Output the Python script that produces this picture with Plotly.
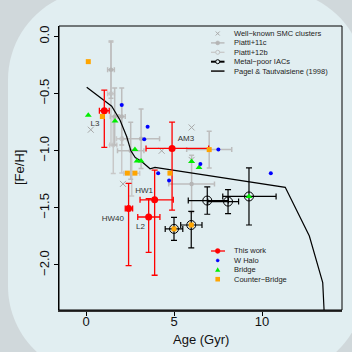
import plotly.graph_objects as go

W = H = 352
L, R, T, B = 59, 342, 26, 310  # plot area in pixels


def px(x):
    return (x - L) / (R - L)


def py(y):
    return (B - y) / (B - T)


FONT = "Liberation Sans, Arial, Helvetica, sans-serif"

# ---------------- data ----------------
# This work (red)
tw_names = ["L3", "AM3", "HW1", "HW40", "L2"]
tw_age = [1.04, 4.89, 3.90, 2.42, 3.56]
tw_age_lo = [0.28, 1.48, 0.83, 0.19, 0.62]
tw_age_hi = [0.28, 2.08, 1.06, 0.23, 0.64]
tw_feh = [-0.65, -0.98, -1.43, -1.505, -1.58]
tw_feh_hi = [0.18, 0.23, 0.26, 0.22, 0.16]
tw_feh_lo = [0.32, 0.54, 0.66, 0.50, 0.31]
lab_age = [0.51, 5.68, 3.30, 1.52, 3.10]
lab_feh = [-0.77, -0.90, -1.35, -1.60, -1.67]

# Metal-poor IACs (black open circles)
iac_age = [5.00, 5.98, 6.89, 8.07, 9.26]
iac_age_lo = [0.50, 0.60, 1.08, 1.15, 1.49]
iac_age_hi = [0.50, 0.61, 1.20, 0.60, 1.54]
iac_feh = [-1.684, -1.65, -1.436, -1.445, -1.40]
iac_feh_hi = [0.10, 0.12, 0.12, 0.105, 0.25]
iac_feh_lo = [0.10, 0.20, 0.12, 0.105, 0.25]

# Piatti+11c (filled grey)
p11_age = [1.42, 1.63, 2.03, 3.13, 2.54, 6.00, 7.00]
p11_feh = [-0.29, -0.70, -0.70, -0.895, -1.00, -1.29, -0.99]
p11_ex = [0.19, 0.25, 0.20, 1.05, 0.75, 1.30, 1.28]
p11_ey = [0.25, 0.25, 0.25, 0.26, 0.25, 0.25, 0.16]

# Piatti+12b (open grey)
p12_age = [1.42, 2.03, 1.55, 2.60]
p12_feh = [-0.50, -0.895, -0.95, -1.196]
p12_ex = [0.19, 0.30, 0.20, 0.45]
p12_ey = [0.45, 0.30, 0.25, 0.20]

# Well-known SMC clusters (grey x)
smc_age = [0.27, 4.30, 6.00, 6.00, 2.10]
smc_feh = [-0.816, -1.00, -0.796, -1.08, -1.29]

# W Halo (blue)
wh_age = [2.03, 3.50, 3.31, 4.10, 4.72, 7.52, 6.50, 10.50]
wh_feh = [-0.60, -0.79, -0.90, -1.196, -1.26, -0.99, -1.117, -1.196]

# Bridge (green)
br_age = [0.13, 1.65, 2.78, 2.90, 3.13, 6.00, 6.42, 9.26]
br_feh = [-0.69, -0.74, -0.99, -1.09, -1.09, -1.094, -1.146, -1.40]

# Counter-Bridge (orange)
cb_age = [0.13, 0.93, 2.35, 2.78, 4.77, 7.00, 5.00, 5.98]
cb_feh = [-0.22, -0.70, -1.196, -1.196, -1.196, -0.99, -1.684, -1.65]

# Pagel & Tautvaisiene (1998)
pt_age = [0.04, 0.61, 1.08, 1.46, 1.93, 2.31, 2.55, 2.80, 3.16, 3.64, 3.92,
          11.32, 12.69, 12.88, 13.45, 13.56]
pt_feh = [-0.445, -0.51, -0.56, -0.61, -0.73, -0.875, -1.00, -1.06, -1.094,
          -1.158, -1.145, -1.32, -1.746, -1.85, -2.155, -2.50]

x_ticks = [0, 5, 10]
y_ticks = [0.0, -0.5, -1.0, -1.5, -2.0]
y_ticktext = ["0.0", "\u22120.5", "\u22121.0", "\u22121.5", "\u22122.0"]

GRAY = "#bdbdbd"

fig = go.Figure()

fig.add_trace(go.Scatter(
    x=p12_age, y=p12_feh, mode="markers",
    marker=dict(symbol="circle-open", size=4, color="#c4c4c4", line=dict(width=1)),
    error_x=dict(type="data", array=p12_ex, color="#c8c8c8", thickness=1.5, width=2.5),
    error_y=dict(type="data", array=p12_ey, color="#c8c8c8", thickness=1.5, width=2.5),
    showlegend=False))
fig.add_trace(go.Scatter(
    x=p11_age, y=p11_feh, mode="markers",
    marker=dict(symbol="circle", size=4.5, color="#b5b5b5"),
    error_x=dict(type="data", array=p11_ex, color=GRAY, thickness=1.5, width=2.5),
    error_y=dict(type="data", array=p11_ey, color=GRAY, thickness=1.5, width=2.5),
    showlegend=False))
fig.add_trace(go.Scatter(
    x=smc_age, y=smc_feh, mode="markers",
    marker=dict(symbol="x-thin", size=6, line=dict(width=1, color="#a8a8a8")),
    showlegend=False))
fig.add_trace(go.Scatter(
    x=pt_age, y=pt_feh, mode="lines",
    line=dict(color="black", width=1.2), showlegend=False))
fig.add_trace(go.Scatter(
    x=tw_age, y=tw_feh, mode="markers",
    marker=dict(symbol="circle", size=7, color="#ff0000"),
    error_x=dict(type="data", symmetric=False, array=tw_age_hi, arrayminus=tw_age_lo,
                 color="#ff0000", thickness=1.3, width=3),
    error_y=dict(type="data", symmetric=False, array=tw_feh_hi, arrayminus=tw_feh_lo,
                 color="#ff0000", thickness=1.3, width=3),
    showlegend=False))
fig.add_trace(go.Scatter(
    x=iac_age, y=iac_feh, mode="markers",
    marker=dict(symbol="circle-open", size=9, color="black", line=dict(width=1)),
    error_x=dict(type="data", symmetric=False, array=iac_age_hi, arrayminus=iac_age_lo,
                 color="black", thickness=1.2, width=3),
    error_y=dict(type="data", symmetric=False, array=iac_feh_hi, arrayminus=iac_feh_lo,
                 color="black", thickness=1.2, width=3),
    showlegend=False))
fig.add_trace(go.Scatter(
    x=cb_age, y=cb_feh, mode="markers",
    marker=dict(symbol="square", size=5, color="#ffa500"), showlegend=False))
fig.add_trace(go.Scatter(
    x=br_age, y=br_feh, mode="markers",
    marker=dict(symbol="triangle-up", size=6, color="#00ee00"), showlegend=False))
fig.add_trace(go.Scatter(
    x=wh_age, y=wh_feh, mode="markers",
    marker=dict(symbol="circle", size=4, color="#0000ff"), showlegend=False))
fig.add_trace(go.Scatter(
    x=lab_age, y=lab_feh, mode="text", text=tw_names,
    textfont=dict(family=FONT, size=8, color="#333333"), showlegend=False))

shapes = []
annotations = []

# rounded background panel (pixel geometry -> paper)
x0p, x1p, y0p, y1p, r = 8, 365, -10, 376, 90
k = 0.5523 * r


def P(x, y):
    return f"{px(x):.5f},{py(y):.5f}"


path = (
    f"M {P(x0p + r, y0p)} L {P(x1p - r, y0p)} "
    f"C {P(x1p - r + k, y0p)} {P(x1p, y0p + r - k)} {P(x1p, y0p + r)} "
    f"L {P(x1p, y1p - r)} "
    f"C {P(x1p, y1p - r + k)} {P(x1p - r + k, y1p)} {P(x1p - r, y1p)} "
    f"L {P(x0p + r, y1p)} "
    f"C {P(x0p + r - k, y1p)} {P(x0p, y1p - r + k)} {P(x0p, y1p - r)} "
    f"L {P(x0p, y0p + r)} "
    f"C {P(x0p, y0p + r - k)} {P(x0p + r - k, y0p)} {P(x0p + r, y0p)} Z"
)
shapes.append(dict(type="path", xref="paper", yref="paper", path=path,
                   fillcolor="#e1eef1", line=dict(width=0), layer="below"))

# frame
shapes.append(dict(type="rect", xref="paper", yref="paper", x0=0, x1=1, y0=0, y1=1,
                   line=dict(color="black", width=1), layer="above"))

# legends
sx, tx = 217.7, 231.5
leg1 = ["Well\u2212known SMC clusters", "Piatti+11c", "Piatti+12b",
        "Metal\u2212poor IACs", "Pagel & Tautvaisiene (1998)"]
leg2 = ["This work", "W Halo", "Bridge", "Counter\u2212Bridge"]
y1s = [33.5 + 9.4 * i for i in range(5)]
y2s = [251.0 + 9.4 * i for i in range(4)]
for txt, yy in zip(leg1, y1s):
    annotations.append(dict(xref="paper", yref="paper", x=px(tx), y=py(yy), text=txt,
                            showarrow=False, xanchor="left", yanchor="middle",
                            font=dict(family=FONT, size=7.5, color="#222222")))
for txt, yy in zip(leg2, y2s):
    annotations.append(dict(xref="paper", yref="paper", x=px(tx), y=py(yy), text=txt,
                            showarrow=False, xanchor="left", yanchor="middle",
                            font=dict(family=FONT, size=7.5, color="#222222")))


def line(xa, xb, y, color, w):
    shapes.append(dict(type="line", xref="paper", yref="paper", x0=px(xa), x1=px(xb),
                       y0=py(y), y1=py(y), line=dict(color=color, width=w)))


def circ(x, y, rr, fill, color, w):
    shapes.append(dict(type="circle", xref="paper", yref="paper",
                       x0=px(x - rr), x1=px(x + rr), y0=py(y + rr), y1=py(y - rr),
                       fillcolor=fill, line=dict(color=color, width=w)))


# row 0: grey x
d = 2.0
shapes.append(dict(type="line", xref="paper", yref="paper", x0=px(sx - d), x1=px(sx + d),
                   y0=py(y1s[0] - d), y1=py(y1s[0] + d), line=dict(color="#a8a8a8", width=1)))
shapes.append(dict(type="line", xref="paper", yref="paper", x0=px(sx - d), x1=px(sx + d),
                   y0=py(y1s[0] + d), y1=py(y1s[0] - d), line=dict(color="#a8a8a8", width=1)))
# row 1: Piatti+11c
line(211, 224.5, y1s[1], "#b5b5b5", 1.3)
circ(sx, y1s[1], 2.0, "#b5b5b5", "#b5b5b5", 0.5)
# row 2: Piatti+12b
line(211, 224.5, y1s[2], "#c8c8c8", 1.3)
circ(sx, y1s[2], 2.0, "#e1eef1", "#c0c0c0", 1)
# row 3: IACs
line(211, 224.5, y1s[3], "black", 2)
circ(sx, y1s[3], 2.0, "#e1eef1", "black", 1)
# row 4: Pagel
line(211, 224.5, y1s[4], "#333333", 1.8)
# bottom legend
line(211, 225, y2s[0], "#ff0000", 1.3)
circ(sx, y2s[0], 2.4, "#ff0000", "#ff0000", 0.5)
circ(sx, y2s[1], 1.5, "#0000ff", "#0000ff", 0.5)
ty = y2s[2]
shapes.append(dict(type="path", xref="paper", yref="paper",
                   path=f"M {P(sx - 2.6, ty + 2)} L {P(sx + 2.6, ty + 2)} L {P(sx, ty - 2.6)} Z",
                   fillcolor="#00ee00", line=dict(width=0)))
qy = y2s[3]
shapes.append(dict(type="rect", xref="paper", yref="paper",
                   x0=px(sx - 2.3), x1=px(sx + 2.3), y0=py(qy + 2.3), y1=py(qy - 2.3),
                   fillcolor="#ffa500", line=dict(width=0)))

# axis titles
annotations.append(dict(xref="paper", yref="paper", x=px(200.5), y=py(339), text="Age (Gyr)",
                        showarrow=False, xanchor="center", yanchor="middle",
                        font=dict(family=FONT, size=13, color="#111111")))
annotations.append(dict(xref="paper", yref="paper", x=px(19), y=py(168), text="[Fe/H]",
                        showarrow=False, xanchor="center", yanchor="middle", textangle=-90,
                        font=dict(family=FONT, size=13, color="#111111")))

fig.update_layout(
    width=W, height=H,
    margin=dict(l=L, r=W - R, t=T, b=H - B, pad=0),
    paper_bgcolor="#d0d8db",
    plot_bgcolor="rgba(0,0,0,0)",
    shapes=shapes, annotations=annotations,
    showlegend=False,
    xaxis=dict(range=[-1.534, 14.545], tickvals=x_ticks, ticks="outside", ticklen=4,
               tickwidth=1, tickcolor="black", showline=True, linewidth=2, linecolor="#333333",
               showgrid=False, zeroline=False, ticklabelstandoff=-6,
               tickfont=dict(family=FONT, size=13, color="#111111")),
    yaxis=dict(range=[-2.394, 0.092], tickvals=y_ticks, ticktext=y_ticktext, tickangle=-90,
               ticks="outside", ticklen=4, tickwidth=1, tickcolor="black", showline=True,
               linewidth=1, linecolor="black", showgrid=False, zeroline=False,
               tickfont=dict(family=FONT, size=13, color="#111111")),
)

fig.write_html("out.html")
